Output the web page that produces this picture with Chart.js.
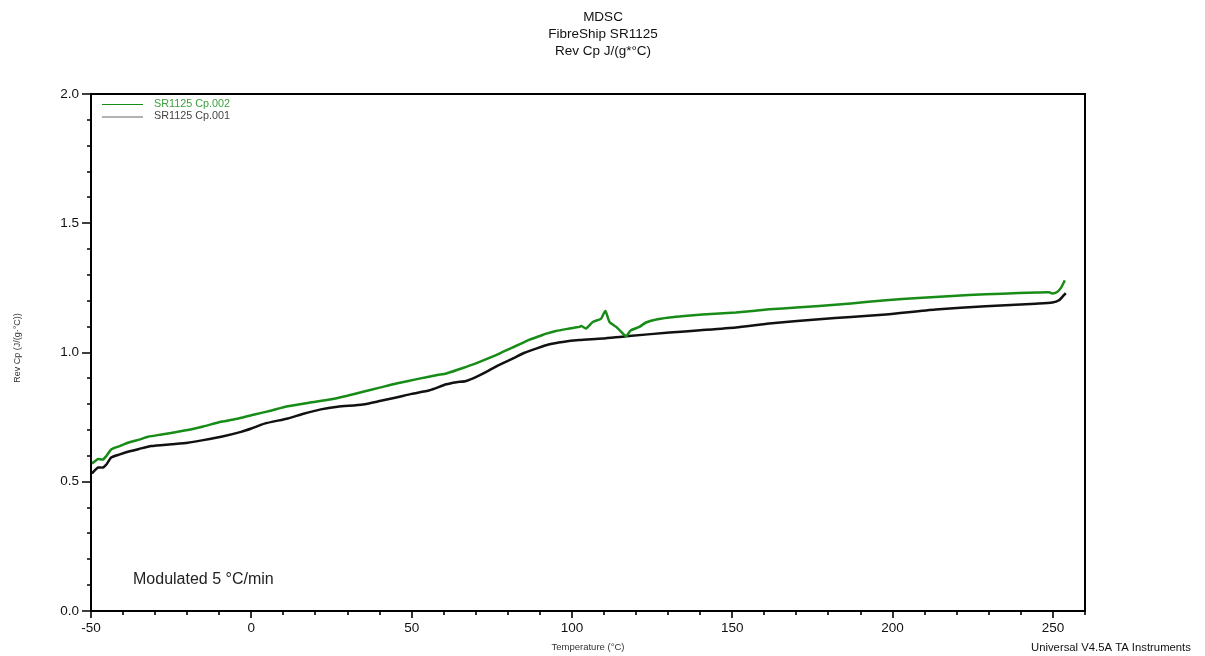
<!DOCTYPE html>
<html>
<head>
<meta charset="utf-8">
<title>MDSC FibreShip SR1125</title>
<script src="https://cdn.jsdelivr.net/npm/chart.js@4.4.1/dist/chart.umd.min.js"></script>
<style>
  html, body { margin: 0; padding: 0; background: #ffffff; }
  canvas { display: block; }
</style>
</head>
<body>
<canvas id="cp" width="1205" height="656"></canvas>
<script>
// Reversing heat capacity, run Cp.002 (temperature in °C, Rev Cp in J/(g·°C))
const tempCp002 = [-49.7, -48.5, -47.8, -46.3, -45.2, -43.7, -41, -38.5, -35, -32.2, -28, -25, -19.8, -15, -9.4, -4, 1.0, 6, 11.4, 18,
  24.5, 30, 34.8, 40, 45.2, 52, 58, 60.8, 66, 71.2, 75, 78.4, 83, 86.8, 90, 92, 95, 99.2, 101, 102.3,
  102.9, 104.4, 106.5, 109.1, 110.4, 111.7, 113.8, 116.4, 117, 118.4, 121.0, 123.1, 126, 130.4, 135, 140.7, 151.1, 161.5, 170, 177.1,
  187, 197.9, 208, 218.6, 229, 239.4, 245, 248.8, 249.8, 251.3, 252.5, 253.7];
const cpCp002 = [0.571, 0.582, 0.588, 0.586, 0.600, 0.625, 0.638, 0.651, 0.663, 0.674, 0.683, 0.689, 0.700, 0.714, 0.732, 0.745, 0.760, 0.775, 0.792, 0.806,
  0.818, 0.833, 0.848, 0.864, 0.880, 0.898, 0.913, 0.919, 0.940, 0.964, 0.983, 1.002, 1.028, 1.050, 1.064, 1.073, 1.083, 1.093, 1.097, 1.099,
  1.103, 1.093, 1.118, 1.131, 1.161, 1.118, 1.099, 1.067, 1.064, 1.086, 1.099, 1.116, 1.127, 1.135, 1.141, 1.147, 1.155, 1.167, 1.174, 1.180,
  1.190, 1.202, 1.211, 1.219, 1.225, 1.230, 1.232, 1.233, 1.228, 1.234, 1.250, 1.279];

// Reversing heat capacity, run Cp.001
const tempCp001 = [-49.7, -48.5, -47.8, -46.3, -45.2, -43.7, -41, -38.5, -35, -31.2, -25, -19.8, -15, -9.4, -3.2, 0, 4.1, 11.4, 16, 21.7,
  26.9, 34.8, 40, 45.2, 50, 55.6, 60.8, 64, 67.0, 70, 73.3, 77, 81.6, 85, 88.8, 93, 97.1, 102.3, 109.6, 116.9,
  130.4, 140, 151.1, 161.5, 177.1, 187, 197.9, 213.4, 229.0, 244.6, 249.8, 251.9, 254.0];
const cpCp001 = [0.532, 0.548, 0.555, 0.555, 0.567, 0.594, 0.606, 0.616, 0.627, 0.638, 0.645, 0.651, 0.661, 0.674, 0.693, 0.706, 0.725, 0.745, 0.762, 0.780,
  0.790, 0.799, 0.812, 0.826, 0.840, 0.854, 0.877, 0.885, 0.890, 0.905, 0.925, 0.950, 0.977, 0.998, 1.015, 1.032, 1.041, 1.048, 1.054, 1.063,
  1.077, 1.086, 1.097, 1.112, 1.129, 1.137, 1.147, 1.166, 1.179, 1.189, 1.193, 1.202, 1.230];

const seriesNames = ['SR1125 Cp.002', 'SR1125 Cp.001'];
const titleLines = ['MDSC', 'FibreShip SR1125', 'Rev Cp J/(g*°C)'];
const xTitle = 'Temperature (°C)';
const yTitle = 'Rev Cp (J/(g·°C))';
const noteText = 'Modulated 5 °C/min';
const footerText = 'Universal V4.5A TA Instruments';

const FONT = "'Liberation Sans', Arial, Helvetica, sans-serif";
const GREEN = '#178c17';
const BLACK = '#111111';

const toPoints = (xs, ys) => xs.map((x, i) => ({ x: x, y: ys[i] }));
const isMajorX = v => Math.abs(v / 50 - Math.round(v / 50)) < 1e-6;
const isMajorY = v => Math.abs(v * 2 - Math.round(v * 2)) < 1e-6;

// Frame, tick marks, legend and text annotations
const decorations = {
  id: 'decorations',
  afterDraw(chart) {
    const ctx = chart.ctx;
    const a = chart.chartArea;
    const xs = chart.scales.x, ys = chart.scales.y;
    ctx.save();

    // plot frame
    ctx.strokeStyle = '#000';
    ctx.lineWidth = 2;
    ctx.strokeRect(a.left, a.top, a.right - a.left, a.bottom - a.top);

    // tick marks
    ctx.lineWidth = 1.6;
    ctx.beginPath();
    xs.ticks.forEach(t => {
      const px = Math.round(xs.getPixelForValue(t.value));
      const len = isMajorX(t.value) ? 7 : 4;
      ctx.moveTo(px, a.bottom);
      ctx.lineTo(px, a.bottom + len);
    });
    ys.ticks.forEach(t => {
      const py = Math.round(ys.getPixelForValue(t.value));
      const len = isMajorY(t.value) ? 9 : 4;
      ctx.moveTo(a.left, py);
      ctx.lineTo(a.left - len, py);
    });
    ctx.stroke();

    // titles
    ctx.fillStyle = '#111';
    ctx.textAlign = 'center';
    ctx.textBaseline = 'middle';
    ctx.font = '13.5px ' + FONT;
    titleLines.forEach((s, i) => ctx.fillText(s, 603, 17 + i * 17));

    // axis titles
    ctx.font = '9.5px ' + FONT;
    ctx.fillStyle = '#333';
    ctx.fillText(xTitle, (a.left + a.right) / 2, 647);
    ctx.save();
    ctx.translate(18, 348);
    ctx.rotate(-Math.PI / 2);
    ctx.font = '9px ' + FONT;
    ctx.fillText(yTitle, 0, 0);
    ctx.restore();

    // note inside plot
    ctx.textAlign = 'left';
    ctx.fillStyle = '#222';
    ctx.font = '16px ' + FONT;
    ctx.fillText(noteText, 133, 580);

    // footer
    ctx.font = '11.3px ' + FONT;
    ctx.fillStyle = '#111';
    ctx.fillText(footerText, 1031, 648);

    // legend
    const legendColors = ['#3a9e3a', '#444444'];
    const lineColors = [GREEN, '#666666'];
    ctx.font = '10.8px ' + FONT;
    chart.data.datasets.forEach((ds, i) => {
      const y = 104 + i * 12.5;
      ctx.strokeStyle = lineColors[i];
      ctx.lineWidth = 1;
      ctx.beginPath();
      ctx.moveTo(102, y + 0.5);
      ctx.lineTo(143, y + 0.5);
      ctx.stroke();
      ctx.fillStyle = legendColors[i];
      ctx.fillText(ds.label, 154, y);
    });

    ctx.restore();
  }
};

new Chart(document.getElementById('cp'), {
  type: 'line',
  data: {
    datasets: [
      {
        label: seriesNames[0],
        data: toPoints(tempCp002, cpCp002),
        borderColor: GREEN,
        borderWidth: 2.5,
        pointRadius: 0,
        tension: 0.2,
        fill: false
      },
      {
        label: seriesNames[1],
        data: toPoints(tempCp001, cpCp001),
        borderColor: BLACK,
        borderWidth: 2.5,
        pointRadius: 0,
        tension: 0.2,
        fill: false
      }
    ]
  },
  options: {
    responsive: false,
    animation: false,
    layout: { padding: { top: 94, right: 120, left: 0, bottom: 0 } },
    plugins: {
      legend: { display: false },
      title: { display: false },
      tooltip: { enabled: false }
    },
    scales: {
      x: {
        type: 'linear',
        min: -50,
        max: 260,
        afterFit(scale) { scale.height = 45; },
        border: { display: false },
        grid: { drawOnChartArea: false, color: 'rgba(0,0,0,0)', tickLength: 7 },
        ticks: {
          stepSize: 10,
          autoSkip: false,
          maxRotation: 0,
          padding: 2,
          color: '#111',
          font: { family: FONT, size: 13.5 },
          callback: v => (isMajorX(v) && v < 260 ? String(Math.round(v)) : '')
        }
      },
      y: {
        type: 'linear',
        min: 0,
        max: 2,
        afterFit(scale) { scale.width = 91; },
        border: { display: false },
        grid: { drawOnChartArea: false, color: 'rgba(0,0,0,0)', tickLength: 9 },
        ticks: {
          stepSize: 0.1,
          autoSkip: false,
          padding: 3,
          color: '#111',
          font: { family: FONT, size: 13.5 },
          callback: v => (isMajorY(v) ? v.toFixed(1) : '')
        }
      }
    }
  },
  plugins: [decorations]
});
</script>
</body>
</html>
